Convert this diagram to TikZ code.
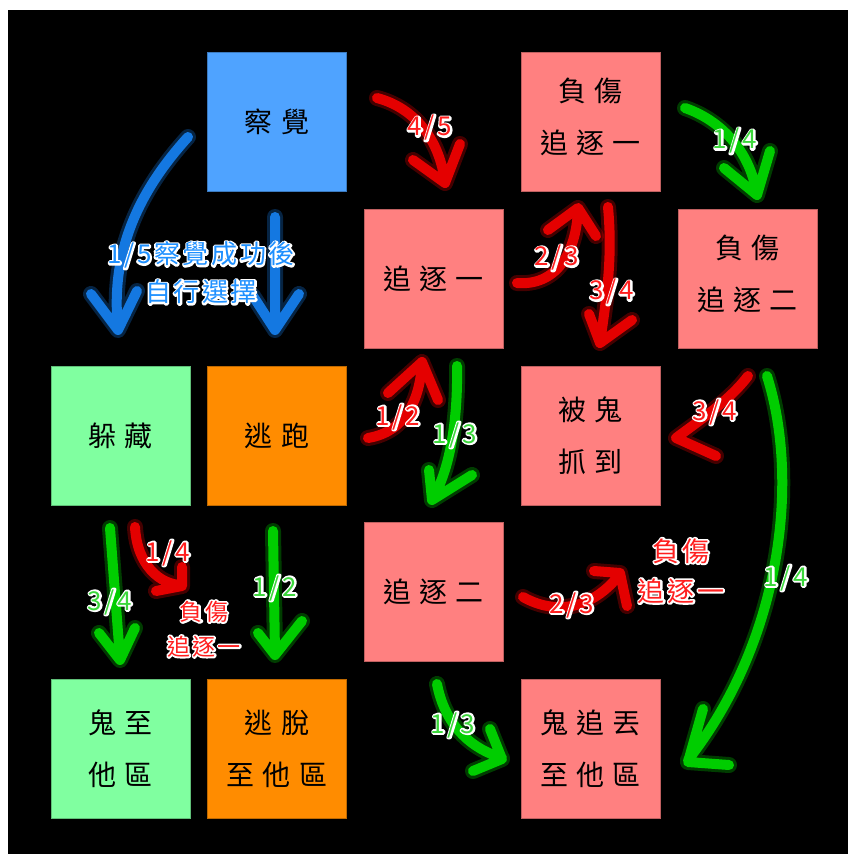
\documentclass[tikz,border=0pt]{standalone}
\usepackage{fontspec}
\newfontfamily\boxfont{Noto Sans CJK TC}[LetterSpace=30]
\newfontfamily\tagfont{Noto Sans CJK TC}[LetterSpace=10]

\definecolor{pinkbox}{RGB}{255,128,128}
\definecolor{bluebox}{RGB}{79,163,255}
\definecolor{greenbox}{RGB}{128,255,160}
\definecolor{orangebox}{RGB}{255,140,0}
\definecolor{redink}{RGB}{228,0,0}
\definecolor{greenink}{RGB}{0,205,0}
\definecolor{blueink}{RGB}{20,120,225}
\definecolor{redtag}{RGB}{255,30,30}
\definecolor{greentag}{RGB}{60,215,60}
\definecolor{bluetag}{RGB}{30,144,255}

\tikzset{
  card/.style={minimum width=139pt, minimum height=139pt, inner sep=0pt,
    fill=#1, draw=#1!75!black, line width=0.8pt, align=center,
    font=\boxfont\fontsize{28}{52}\selectfont, text=black},
  ink/.style={draw=#1, line width=10pt, line cap=round, line join=round,
    preaction={draw=#1, line width=16pt, opacity=0.3, line cap=round, line join=round}},
  tag/.style={align=center, inner sep=0pt,
    font=\tagfont\fontsize{26}{38}\selectfont},
}
% white stroked glyphs underneath, coloured glyphs on top
\newcommand\outl[2]{%
  \leavevmode\makebox[0pt][l]{\color{white}%
    \special{pdf:literal direct 1 Tr 3.6 w 1 j 1 1 1 RG}#2%
    \special{pdf:literal direct 0 Tr}}%
  \textcolor{#1}{#2}}

\begin{document}
\begin{tikzpicture}[x=1pt,y=-1pt]
  % page: white edge and black ground
  \fill[white] (0,0) rectangle (848,854);
  \fill[black] (8,10) rectangle (848,854);
  \useasboundingbox (0,0) rectangle (848,854);

  % cards
  \node[card=bluebox]   (detect)  at (277,122)   {察覺};
  \node[card=pinkbox]   (hurt1)   at (590.5,122) {負傷\\追逐一\\[-40pt]};
  \node[card=pinkbox]   (chase1)  at (433.5,278.5) {追逐一};
  \node[card=pinkbox]   (hurt2)   at (747.5,278.5) {負傷\\追逐二\\[-40pt]};
  \node[card=greenbox]  (hide)    at (120.5,435.5) {躲藏};
  \node[card=orangebox] (flee)    at (277,435.5) {逃跑};
  \node[card=pinkbox]   (caught)  at (590.5,435.5) {被鬼\\抓到};
  \node[card=pinkbox]   (chase2)  at (433.5,592) {追逐二};
  \node[card=greenbox]  (ghostaway) at (120.5,748.5) {鬼至\\他區};
  \node[card=orangebox] (escaped) at (277,748.5) {逃脫\\至他區};
  \node[card=pinkbox]   (lost)    at (590.5,748.5) {鬼追丟\\至他區};

  % blue strokes out of detect
  \draw[ink=blueink] (188,137) .. controls (140,190) and (110,250) .. (118,328)
        (91,294) -- (118,330) -- (137,291);
  \draw[ink=blueink] (275,217) -- (275,330)
        (253,296) -- (275,330) -- (299,294);

  % red strokes
  \draw[ink=redink] (377,98) .. controls (415,108) and (440,140) .. (445,183)
        (413,160) -- (445,183) -- (460,144);
  \draw[ink=redink] (517,283) .. controls (555,286) and (576,255) .. (578,210)
        (548,230) -- (578,208) -- (596,236);
  \draw[ink=redink] (608,207) .. controls (613,260) and (606,300) .. (600,343)
        (589,314) -- (600,343) -- (632,320);
  \draw[ink=redink] (368,438) .. controls (405,432) and (420,400) .. (422,363)
        (388,393) -- (422,362) -- (438,400);
  \draw[ink=redink] (748,376) .. controls (730,400) and (700,420) .. (676,438)
        (676,438) -- (716,456);
  \draw[ink=redink] (523,597) .. controls (555,615) and (592,610) .. (620,574)
        (594,571) -- (620,573) -- (627,606);
  \draw[ink=redink] (135,527) .. controls (137,565) and (160,585) .. (182,585)
        (156,591) -- (182,586) -- (182,567);

  % green strokes
  \draw[ink=greenink] (685,108) .. controls (720,120) and (750,150) .. (757,195)
        (724,168) -- (757,195) -- (770,151);
  \draw[ink=greenink] (457,366) .. controls (458,420) and (450,470) .. (432,500)
        (429,470) -- (432,500) -- (472,475);
  \draw[ink=greenink] (767,376) .. controls (800,480) and (782,640) .. (688,760)
        (703,709) -- (688,762) -- (729,765);
  \draw[ink=greenink] (437,684) .. controls (445,725) and (470,748) .. (502,758)
        (490,729) -- (502,759) -- (473,771);
  \draw[ink=greenink] (110,528) -- (120,658)
        (99,633) -- (120,660) -- (135,628);
  \draw[ink=greenink] (273,531) -- (275,653)
        (258,633) -- (275,655) -- (302,621);

  % outlined labels
  \node[tag] (tagdetect) at (201,273) {\outl{bluetag}{1/5察覺成功後}\\\outl{bluetag}{自行選擇}};
  \node[tag] (t45)  at (430,128) {\outl{redtag}{4/5}};
  \node[tag] (t23a) at (557,258) {\outl{redtag}{2/3}};
  \node[tag] (t34a) at (612,292) {\outl{redtag}{3/4}};
  \node[tag] (t14a) at (735,141) {\outl{greentag}{1/4}};
  \node[tag] (t12)  at (398,417) {\outl{redtag}{1/2}};
  \node[tag] (t13a) at (455,435) {\outl{greentag}{1/3}};
  \node[tag] (t34b) at (715,412) {\outl{redtag}{3/4}};
  \node[tag] (t14b) at (786,578) {\outl{greentag}{1/4}};
  \node[tag] (t23b) at (572,605) {\outl{redtag}{2/3}};
  \node[tag,font=\tagfont\fontsize{27}{40}\selectfont]
       (thurtA) at (681,571) {\outl{redtag}{負傷}\\\outl{redtag}{追逐一}};
  \node[tag] (t13b) at (453,725) {\outl{greentag}{1/3}};
  \node[tag] (t34c) at (110,602) {\outl{greentag}{3/4}};
  \node[tag] (t14c) at (168,553) {\outl{redtag}{1/4}};
  \node[tag,font=\tagfont\fontsize{23}{35}\selectfont]
       (thurtB) at (204,629) {\outl{redtag}{負傷}\\\outl{redtag}{追逐一}};
  \node[tag] (t12b) at (275,588) {\outl{greentag}{1/2}};
\end{tikzpicture}
\end{document}
